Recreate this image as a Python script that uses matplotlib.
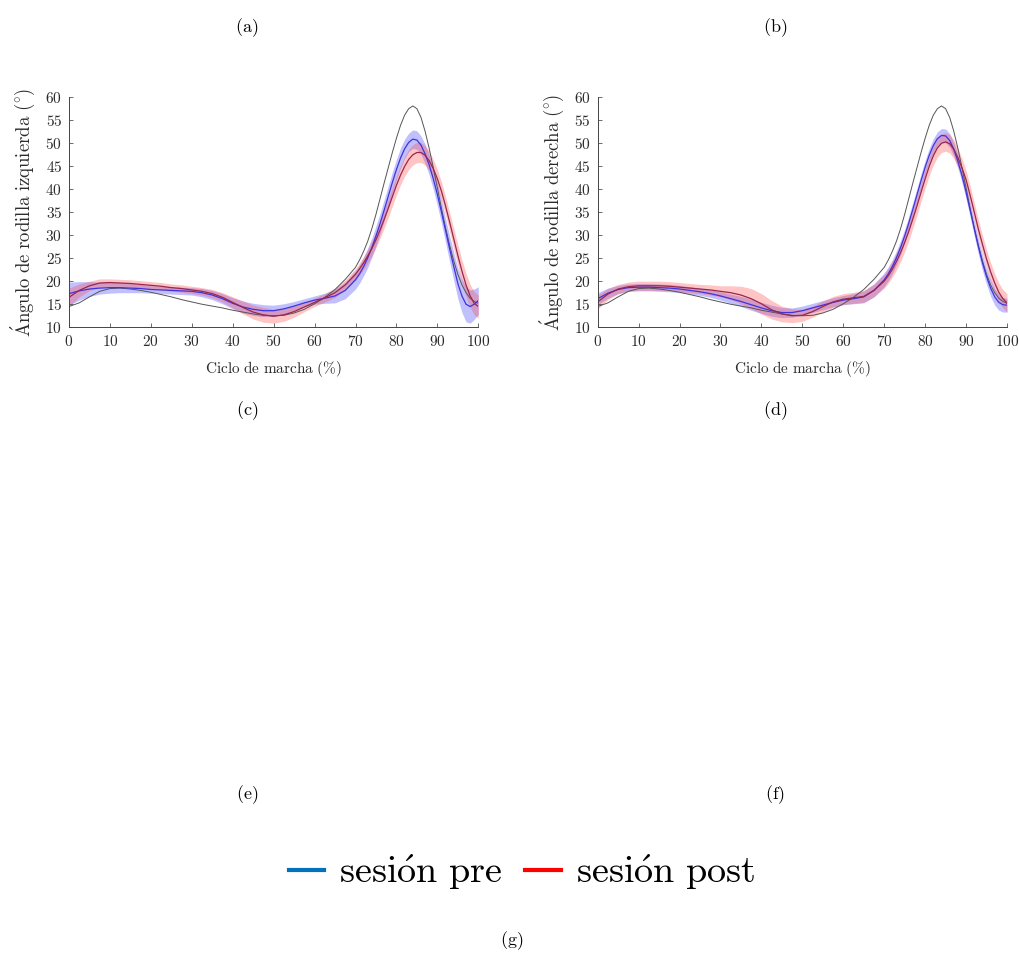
import matplotlib
matplotlib.use("Agg")
import matplotlib.pyplot as plt
from matplotlib.lines import Line2D
import numpy as np

plt.rcParams["font.family"] = "cmr10"
plt.rcParams["mathtext.fontset"] = "cm"
plt.rcParams["axes.formatter.use_mathtext"] = True

# Gait cycle sample positions (%): every 2.5 % up to 67.5, then every 1 %
cycle = [0, 2.5, 5, 7.5, 10, 12.5, 15, 17.5, 20, 22.5, 25, 27.5, 30, 32.5, 35, 37.5,
         40, 42.5, 45, 47.5, 50, 52.5, 55, 57.5, 60, 62.5, 65, 67.5,
         70, 71, 72, 73, 74, 75, 76, 77, 78, 79, 80, 81, 82, 83, 84, 85, 86, 87, 88, 89,
         90, 91, 92, 93, 94, 95, 96, 97, 98, 99, 100]

# Normative knee flexion curve (deg)
normal = [14.5, 15.3, 16.6, 17.8, 18.4, 18.5, 18.3, 18.0, 17.6, 17.1, 16.6, 16.0, 15.5, 15.0,
          14.6, 14.2, 13.7, 13.3, 12.9, 12.6, 12.5, 12.6, 13.1, 13.9, 15.1, 16.5, 18.2, 20.4,
          23.0, 24.6, 26.5, 28.7, 31.4, 34.5, 37.9, 41.3, 44.6, 47.9, 51.0, 53.8, 56.0, 57.4,
          58.0, 57.4, 55.5, 52.5, 48.8, 44.6, 40.2, 35.8, 31.6, 27.8, 24.4, 21.5, 19.2, 17.5,
          16.3, 15.6, 15.2]

# Left knee, pre session: mean and standard deviation (deg)
left_pre = [17.3, 17.9, 18.3, 18.5, 18.6, 18.6, 18.5, 18.4, 18.2, 18.1, 18.0, 17.9, 17.8, 17.5,
            17.0, 16.2, 15.2, 14.4, 13.9, 13.6, 13.6, 14.0, 14.6, 15.3, 15.9, 16.3, 16.8, 18.0,
            20.3, 21.6, 23.2, 25.1, 27.3, 29.8, 32.5, 35.4, 38.4, 41.4, 44.2, 46.7, 48.7, 50.1,
            50.8, 50.6, 49.5, 47.6, 45.2, 42.2, 38.8, 35.0, 31.0, 27.0, 23.2, 19.5, 16.8, 15.0,
            14.5, 15.0, 15.8]
left_pre_sd = [2.5, 2.0, 1.6, 1.3, 1.2, 1.1, 1.0, 0.9, 0.8, 0.8, 0.8, 0.8, 0.8, 0.9,
               1.0, 1.1, 1.2, 1.3, 1.3, 1.3, 1.2, 1.1, 1.0, 0.9, 0.9, 1.1, 1.5, 1.8,
               2.0, 2.0, 2.0, 2.1, 2.1, 2.2, 2.2, 2.3, 2.3, 2.3, 2.2, 2.2, 2.1, 2.0,
               2.0, 2.0, 2.0, 2.1, 2.2, 2.3, 2.4, 2.5, 2.6, 2.8, 3.0, 3.3, 3.6, 3.8,
               3.6, 3.3, 3.0]

# Left knee, post session: mean and standard deviation (deg)
left_post = [16.5, 18.0, 19.0, 19.6, 19.7, 19.6, 19.5, 19.3, 19.1, 18.9, 18.6, 18.4, 18.1, 17.8,
             17.3, 16.5, 15.4, 14.3, 13.3, 12.7, 12.4, 12.7, 13.4, 14.4, 15.4, 16.4, 17.5, 19.2,
             21.5, 22.7, 24.0, 25.5, 27.1, 29.0, 31.1, 33.4, 35.8, 38.3, 40.8, 43.0, 44.9, 46.4,
             47.4, 47.9, 47.9, 47.3, 46.1, 44.4, 42.2, 39.5, 36.3, 32.8, 29.2, 25.6, 22.2, 19.2,
             16.8, 15.2, 14.5]
left_post_sd = [2.0, 1.4, 1.0, 0.9, 0.8, 0.8, 0.8, 0.8, 0.8, 0.8, 0.8, 0.8, 0.8, 0.8,
                0.9, 1.0, 1.2, 1.4, 1.5, 1.6, 1.5, 1.4, 1.2, 1.0, 0.9, 0.9, 1.0, 1.1,
                1.2, 1.3, 1.4, 1.5, 1.6, 1.7, 1.8, 1.9, 2.0, 2.0, 2.1, 2.1, 2.1, 2.2,
                2.2, 2.2, 2.2, 2.1, 2.1, 2.0, 2.0, 2.0, 2.0, 2.1, 2.2, 2.3, 2.4, 2.5,
                2.5, 2.5, 2.5]

# Right knee, pre session: mean and standard deviation (deg)
right_pre = [16.2, 17.4, 18.2, 18.6, 18.7, 18.7, 18.6, 18.5, 18.3, 18.0, 17.7, 17.3, 16.8, 16.2,
             15.6, 14.9, 14.2, 13.6, 13.2, 13.2, 13.6, 14.2, 14.8, 15.4, 15.9, 16.2, 16.6, 18.0,
             20.3, 21.6, 23.2, 25.1, 27.3, 29.8, 32.6, 35.6, 38.7, 41.8, 44.7, 47.3, 49.4, 50.9,
             51.6, 51.5, 50.5, 48.6, 46.0, 42.9, 39.3, 35.4, 31.4, 27.5, 24.0, 21.0, 18.5, 16.6,
             15.4, 14.9, 14.8]
right_pre_sd = [1.3, 1.1, 0.9, 0.8, 0.8, 0.8, 0.8, 0.8, 0.8, 0.8, 0.8, 0.8, 0.9, 1.0,
                1.1, 1.2, 1.2, 1.2, 1.1, 1.0, 1.0, 1.0, 1.0, 1.0, 1.0, 1.1, 1.3, 1.4,
                1.5, 1.5, 1.5, 1.5, 1.5, 1.5, 1.5, 1.5, 1.5, 1.5, 1.5, 1.5, 1.5, 1.5,
                1.5, 1.5, 1.5, 1.5, 1.5, 1.5, 1.5, 1.5, 1.6, 1.6, 1.7, 1.7, 1.8, 1.8,
                1.7, 1.6, 1.5]

# Right knee, post session: mean and standard deviation (deg)
right_post = [15.5, 17.2, 18.3, 18.8, 19.0, 19.0, 19.0, 18.9, 18.7, 18.5, 18.3, 18.1, 17.8, 17.5,
              17.0, 16.2, 15.1, 13.8, 12.9, 12.5, 12.6, 13.4, 14.5, 15.5, 16.1, 16.4, 16.7, 18.0,
              20.0, 21.2, 22.6, 24.3, 26.2, 28.4, 30.8, 33.5, 36.3, 39.3, 42.2, 44.9, 47.2, 48.9,
              49.9, 50.2, 49.8, 48.6, 46.8, 44.6, 42.0, 38.6, 35.0, 31.3, 28.0, 24.8, 22.0, 19.6,
              17.6, 16.2, 15.3]
right_post_sd = [1.5, 1.2, 1.0, 1.0, 1.0, 1.0, 1.0, 1.0, 1.0, 1.0, 1.0, 1.1, 1.2, 1.5,
                 1.9, 2.2, 2.2, 2.0, 1.7, 1.5, 1.3, 1.2, 1.2, 1.2, 1.2, 1.2, 1.3, 1.4,
                 1.5, 1.6, 1.7, 1.8, 1.9, 2.0, 2.0, 2.0, 2.0, 2.0, 2.0, 2.0, 2.0, 2.0,
                 2.0, 2.0, 2.0, 2.0, 2.0, 2.0, 2.0, 2.0, 2.0, 2.0, 2.0, 2.0, 2.0, 2.0,
                 2.0, 2.0, 2.0]

x_ticks = [0, 10, 20, 30, 40, 50, 60, 70, 80, 90, 100]
y_ticks = [10, 15, 20, 25, 30, 35, 40, 45, 50, 55, 60]
x_label = r"$\mathrm{Ciclo\ de\ marcha\ (\%)}$"
y_labels = [r"$\mathrm{\acute{A}ngulo\ de\ rodilla\ izquierda\ (^{\circ})}$",
            r"$\mathrm{\acute{A}ngulo\ de\ rodilla\ derecha\ (^{\circ})}$"]
panel_tags = ["(a)", "(b)", "(c)", "(d)", "(e)", "(f)", "(g)"]
legend_labels = [r"$\mathrm{sesi\acute{o}n\ pre}$", r"$\mathrm{sesi\acute{o}n\ post}$"]

W, H = 1020, 956
fig = plt.figure(figsize=(W / 100, H / 100), dpi=100)

text_col = "#2b2b2b"
x = np.array(cycle)

panels = [
    (69, (left_pre, left_pre_sd, left_post, left_post_sd), y_labels[0]),
    (597.7, (right_pre, right_pre_sd, right_post, right_post_sd), y_labels[1]),
]
for x0, (pre, pre_sd, post, post_sd), ylab in panels:
    ax = fig.add_axes([x0 / W, 1 - 327.3 / H, 409.3 / W, 230.6 / H])
    pre, pre_sd, post, post_sd = map(np.array, (pre, pre_sd, post, post_sd))
    ax.fill_between(x, pre - pre_sd, pre + pre_sd, color=(0.25, 0.25, 1.0), alpha=0.33, lw=0)
    ax.fill_between(x, post - post_sd, post + post_sd, color=(1.0, 0.3, 0.3), alpha=0.33, lw=0)
    ax.plot(x, normal, color="#555555", lw=0.7)
    ax.plot(x, pre, color=(0.25, 0.2, 0.85), lw=0.9)
    ax.plot(x, post, color=(0.6, 0.15, 0.3), lw=0.9)
    ax.set_xlim(0, 100)
    ax.set_ylim(10, 60)
    ax.set_xticks(x_ticks)
    ax.set_yticks(y_ticks)
    for s in ("top", "right"):
        ax.spines[s].set_visible(False)
    for s in ("left", "bottom"):
        ax.spines[s].set_color("#444444")
        ax.spines[s].set_linewidth(0.7)
    ax.tick_params(direction="in", length=3, width=0.6, color="#555555",
                   labelsize=11, labelcolor=text_col, pad=5)
    ax.set_xlabel(x_label, fontsize=11, color=text_col, labelpad=7)
    ax.set_ylabel(ylab, fontsize=13.5, color=text_col, labelpad=6)

tag_pos = [(247, 28), (775, 28), (247, 411), (775, 411), (247, 795), (775, 795), (512, 941)]
for t, (px, py) in zip(panel_tags, tag_pos):
    fig.text(px / W, 1 - py / H, r"$\mathrm{" + t + "}$", fontsize=13,
             ha="center", va="center", color="black")

handles = [Line2D([], [], color="#0072BD", lw=3),
           Line2D([], [], color="#FF0000", lw=3)]
fig.legend(handles, legend_labels, loc="center", bbox_to_anchor=(522 / W, 1 - 872 / H),
           ncol=2, frameon=False, fontsize=27.5, handlelength=0.92, handletextpad=0.4,
           columnspacing=0.6, borderpad=0)

fig.savefig("out.png", dpi=100, facecolor="white")
